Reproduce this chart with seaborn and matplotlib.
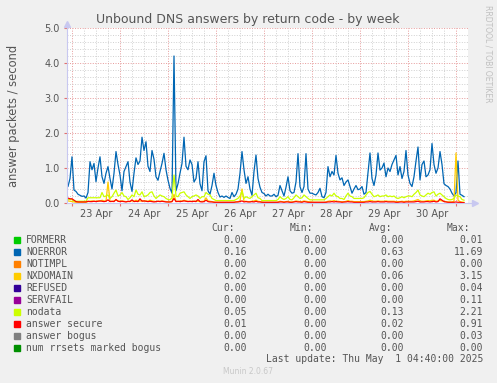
import numpy as np
import pandas as pd
import seaborn as sns
import matplotlib.pyplot as plt
import matplotlib.dates as mdates
from matplotlib.ticker import FuncFormatter, MultipleLocator
from matplotlib.patches import Rectangle

# hourly samples, 22 Apr 21:00 -> 1 May 04:00 (answers / second)
noerror = [
    0.60, 0.47, 0.70,
    1.32, 0.37, 0.33, 0.25, 0.22, 0.19, 0.20, 0.14, 0.30, 1.18, 0.95, 1.13,
    0.61, 1.00, 1.32, 0.75, 0.56, 0.85, 1.04, 0.70, 0.40, 0.85, 1.47, 1.10,
    0.80, 0.35, 0.90, 1.04, 1.18, 0.60, 0.33, 0.85, 1.29, 1.10, 1.20, 1.88,
    1.50, 1.75, 1.05, 0.90, 1.50, 1.25, 0.75, 0.65, 0.90, 1.13, 1.42, 0.95,
    0.65, 0.42, 0.28, 4.20, 0.35, 0.55, 0.85, 1.13, 1.88, 1.05, 0.95, 1.23,
    1.10, 0.60, 0.70, 1.18, 0.55, 0.35, 1.18, 1.35, 0.35, 0.25, 0.50, 0.85,
    0.50, 0.30, 0.17, 0.20, 0.16, 0.20, 0.16, 0.13, 0.30, 0.18, 0.25, 0.40,
    0.85, 1.47, 0.95, 0.56, 0.75, 0.40, 0.22, 0.90, 1.37, 0.70, 0.45, 0.30,
    0.27, 0.20, 0.25, 0.20, 0.20, 0.25, 0.18, 0.22, 0.50, 0.35, 0.20, 0.45,
    0.75, 0.35, 0.28, 0.30, 0.60, 1.41, 0.47, 0.30, 0.47, 1.41, 0.40, 0.28,
    0.28, 0.25, 0.23, 0.30, 0.42, 0.18, 0.15, 0.30, 1.04, 0.75, 0.90, 0.80,
    1.36, 0.85, 0.66, 0.72, 0.50, 0.60, 0.66, 0.47, 0.28, 0.40, 0.50, 0.38,
    0.40, 0.47, 0.25, 0.30, 0.85, 1.43, 0.70, 0.50, 0.80, 1.43, 0.94, 1.00,
    1.14, 0.75, 1.00, 0.90, 1.10, 1.23, 1.36, 0.80, 1.04, 0.70, 0.90, 1.50,
    0.80, 0.56, 0.47, 0.75, 1.20, 1.60, 0.66, 1.10, 1.20, 0.75, 0.80, 0.95,
    1.70, 1.10, 0.85, 1.00, 1.47, 1.10, 0.55, 0.50, 0.47, 0.40, 0.28, 0.20,
    0.30, 1.20, 0.25, 0.22, 0.18,
]
nxdomain = [
    0.05, 0.06, 0.05,
    0.04, 0.03, 0.02, 0.02, 0.02, 0.02, 0.02, 0.02, 0.04, 0.05, 0.06, 0.05,
    0.05, 0.06, 0.05, 0.08, 0.06, 0.05, 0.60, 0.05, 0.04, 0.06, 0.08, 0.06,
    0.05, 0.06, 0.05, 0.04, 0.04, 0.05, 0.06, 0.05, 0.08, 0.06, 0.05, 0.07,
    0.05, 0.06, 0.05, 0.08, 0.06, 0.05, 0.04, 0.05, 0.05, 0.06, 0.05, 0.04,
    0.03, 0.03, 0.04, 0.25, 0.05, 0.04, 0.06, 0.05, 0.08, 0.06, 0.05, 0.04,
    0.05, 0.05, 0.06, 0.05, 0.04, 0.05, 0.05, 0.15, 0.06, 0.05, 0.04, 0.03,
    0.02, 0.02, 0.02, 0.02, 0.02, 0.02, 0.02, 0.02, 0.02, 0.02, 0.03, 0.04,
    0.06, 0.40, 0.05, 0.05, 0.04, 0.04, 0.05, 0.06, 0.08, 0.05, 0.04, 0.03,
    0.02, 0.02, 0.02, 0.02, 0.02, 0.02, 0.02, 0.03, 0.05, 0.04, 0.03, 0.04,
    0.05, 0.03, 0.03, 0.04, 0.06, 0.05, 0.04, 0.04, 0.06, 0.05, 0.04, 0.03,
    0.03, 0.02, 0.02, 0.02, 0.02, 0.02, 0.02, 0.03, 0.05, 0.06, 0.05, 0.07,
    0.05, 0.05, 0.04, 0.04, 0.03, 0.05, 0.07, 0.05, 0.05, 0.04, 0.04, 0.04,
    0.04, 0.04, 0.04, 0.05, 0.06, 0.08, 0.06, 0.05, 0.05, 0.06, 0.05, 0.05,
    0.05, 0.06, 0.05, 0.05, 0.05, 0.05, 0.04, 0.04, 0.04, 0.05, 0.04, 0.05,
    0.05, 0.05, 0.05, 0.06, 0.08, 0.10, 0.06, 0.05, 0.05, 0.06, 0.07, 0.06,
    0.08, 0.08, 0.05, 0.06, 0.07, 0.06, 0.05, 0.04, 0.03, 0.03, 0.03, 0.05,
    1.43, 0.08, 0.04, 0.03, 0.02,
]
nodata = [
    0.10, 0.10, 0.10,
    0.10, 0.05, 0.05, 0.05, 0.05, 0.05, 0.05, 0.05, 0.15, 0.15, 0.15, 0.15,
    0.15, 0.15, 0.15, 0.30, 0.18, 0.20, 0.23, 0.13, 0.18, 0.28, 0.37, 0.20,
    0.23, 0.30, 0.20, 0.18, 0.10, 0.15, 0.23, 0.18, 0.37, 0.25, 0.23, 0.32,
    0.18, 0.20, 0.23, 0.30, 0.32, 0.20, 0.13, 0.18, 0.23, 0.20, 0.18, 0.13,
    0.10, 0.09, 0.15, 0.80, 0.20, 0.18, 0.28, 0.30, 0.32, 0.23, 0.18, 0.13,
    0.18, 0.20, 0.23, 0.20, 0.13, 0.18, 0.18, 0.30, 0.25, 0.23, 0.13, 0.10,
    0.07, 0.07, 0.07, 0.07, 0.07, 0.07, 0.07, 0.07, 0.07, 0.07, 0.10, 0.13,
    0.20, 0.33, 0.13, 0.18, 0.15, 0.13, 0.18, 0.23, 0.28, 0.15, 0.13, 0.07,
    0.07, 0.07, 0.07, 0.07, 0.07, 0.07, 0.07, 0.10, 0.18, 0.13, 0.10, 0.13,
    0.18, 0.10, 0.09, 0.15, 0.23, 0.18, 0.13, 0.15, 0.23, 0.18, 0.13, 0.09,
    0.09, 0.09, 0.09, 0.09, 0.09, 0.09, 0.09, 0.13, 0.18, 0.23, 0.20, 0.28,
    0.20, 0.18, 0.13, 0.13, 0.10, 0.20, 0.28, 0.20, 0.18, 0.13, 0.13, 0.13,
    0.13, 0.13, 0.15, 0.23, 0.30, 0.33, 0.25, 0.18, 0.20, 0.23, 0.18, 0.20,
    0.20, 0.23, 0.18, 0.20, 0.18, 0.20, 0.15, 0.13, 0.15, 0.18, 0.15, 0.18,
    0.20, 0.20, 0.18, 0.25, 0.30, 0.37, 0.23, 0.20, 0.18, 0.23, 0.28, 0.25,
    0.30, 0.32, 0.20, 0.25, 0.28, 0.23, 0.18, 0.13, 0.10, 0.09, 0.10, 0.13,
    0.23, 0.20, 0.18, 0.10, 0.08,
]
secure = [
    0.13, 0.14, 0.12,
    0.12, 0.08, 0.04, 0.03, 0.03, 0.03, 0.03, 0.03, 0.05, 0.04, 0.04, 0.05,
    0.04, 0.05, 0.06, 0.05, 0.04, 0.05, 0.09, 0.04, 0.05, 0.04, 0.10, 0.05,
    0.04, 0.05, 0.04, 0.03, 0.05, 0.04, 0.09, 0.04, 0.05, 0.04, 0.12, 0.05,
    0.06, 0.05, 0.04, 0.05, 0.04, 0.03, 0.04, 0.05, 0.04, 0.05, 0.04, 0.03,
    0.03, 0.03, 0.04, 0.13, 0.04, 0.05, 0.04, 0.05, 0.06, 0.05, 0.04, 0.05,
    0.04, 0.05, 0.04, 0.10, 0.04, 0.03, 0.04, 0.08, 0.04, 0.03, 0.03, 0.02,
    0.02, 0.02, 0.02, 0.02, 0.02, 0.02, 0.02, 0.02, 0.02, 0.02, 0.03, 0.03,
    0.04, 0.06, 0.03, 0.04, 0.03, 0.03, 0.04, 0.03, 0.05, 0.03, 0.03, 0.02,
    0.02, 0.02, 0.02, 0.02, 0.02, 0.02, 0.02, 0.02, 0.03, 0.03, 0.02, 0.03,
    0.03, 0.02, 0.02, 0.03, 0.04, 0.03, 0.03, 0.02, 0.04, 0.03, 0.02, 0.02,
    0.02, 0.02, 0.02, 0.02, 0.02, 0.02, 0.02, 0.02, 0.03, 0.03, 0.04, 0.03,
    0.04, 0.03, 0.03, 0.02, 0.03, 0.03, 0.04, 0.03, 0.03, 0.02, 0.02, 0.02,
    0.02, 0.02, 0.02, 0.03, 0.03, 0.04, 0.03, 0.03, 0.03, 0.04, 0.03, 0.03,
    0.03, 0.04, 0.03, 0.03, 0.03, 0.03, 0.02, 0.02, 0.03, 0.03, 0.02, 0.03,
    0.03, 0.03, 0.03, 0.03, 0.04, 0.05, 0.03, 0.03, 0.03, 0.04, 0.04, 0.03,
    0.04, 0.05, 0.03, 0.04, 0.12, 0.08, 0.04, 0.03, 0.02, 0.02, 0.02, 0.02,
    0.03, 0.02, 0.02, 0.01, 0.01,
]

# legend table
labels = ['FORMERR', 'NOERROR', 'NOTIMPL', 'NXDOMAIN', 'REFUSED', 'SERVFAIL',
          'nodata', 'answer secure', 'answer bogus', 'num rrsets marked bogus']
colors = ['#00cc00', '#0066b3', '#ff8000', '#ffcc00', '#330099', '#990099',
          '#ccff00', '#ff0000', '#808080', '#008f00']
cur = ['0.00', '0.16', '0.00', '0.02', '0.00', '0.00', '0.05', '0.01', '0.00', '0.00']
mins = ['0.00'] * 10
avg = ['0.00', '0.63', '0.00', '0.06', '0.00', '0.00', '0.13', '0.02', '0.00', '0.00']
maxs = ['0.01', '11.69', '0.00', '3.15', '0.04', '0.11', '2.21', '0.91', '0.03', '0.00']

times = pd.date_range('2025-04-22 21:00', periods=len(noerror), freq='h')
df = pd.DataFrame({'time': times, 'NOERROR': noerror, 'NXDOMAIN': nxdomain,
                   'nodata': nodata, 'answer secure': secure})
df = df.melt(id_vars='time', var_name='series', value_name='rate')
drawn = ['NOERROR', 'NXDOMAIN', 'nodata', 'answer secure']
pal = {k: colors[labels.index(k)] for k in drawn}

W, H = 497, 383
fig = plt.figure(figsize=(W / 100, H / 100), dpi=100, facecolor='#f0f0f0')
ax = fig.add_axes([67 / W, 1 - 203 / H, 401 / W, 175 / H])
ax.set_facecolor('white')

sns.lineplot(data=df, x='time', y='rate', hue='series', hue_order=drawn,
             palette=pal, linewidth=0.9, legend=False, ax=ax)

ax.set_xlim(pd.Timestamp('2025-04-22 21:30'), pd.Timestamp('2025-05-01 06:00'))
ax.set_ylim(0, 5)
ax.yaxis.set_major_locator(MultipleLocator(1))
ax.yaxis.set_minor_locator(MultipleLocator(0.2))
ax.yaxis.set_major_formatter(FuncFormatter(lambda v, p: f'{v:.1f}'))
ax.xaxis.set_major_locator(mdates.DayLocator())
ax.xaxis.set_minor_locator(mdates.HourLocator(byhour=[0, 6, 12, 18]))
ax.xaxis.set_major_formatter(FuncFormatter(lambda v, p: ''))
ax.xaxis.set_minor_formatter(FuncFormatter(
    lambda v, p: mdates.num2date(v).strftime('%d %b') if mdates.num2date(v).hour == 12 else ''))

dots = (0, (1, 1.6))
ax.grid(which='minor', color='#d0d0d0', linestyle=dots, linewidth=0.7)
ax.grid(which='major', color='#e69a9a', linestyle=dots, linewidth=0.7)
ax.set_axisbelow(True)

ax.tick_params(which='major', length=2, color='#e07070', labelsize=7, labelcolor='#555555', pad=3)
ax.tick_params(which='minor', length=0, labelsize=7, labelcolor='#555555', pad=4)
ax.set_xlabel('')
ax.set_ylabel('answer packets / second', fontsize=8.3, color='#555555', labelpad=18)

for s in ['top', 'right']:
    ax.spines[s].set_visible(False)
for s in ['left', 'bottom']:
    ax.spines[s].set_color('#c8c8f0')
    ax.spines[s].set_linewidth(0.8)
ax.plot([1.0, 1.015], [0, 0], color='#c8c8f0', lw=0.8, transform=ax.transAxes, clip_on=False)
ax.plot(1.018, 0, marker='>', ms=4, color='#c8c8f0', transform=ax.transAxes, clip_on=False)
ax.plot(0, 1.02, marker='^', ms=4, color='#c8c8f0', transform=ax.transAxes, clip_on=False)

txt = '#555555'
fig.text(248 / W, 1 - 19 / H, 'Unbound DNS answers by return code - by week',
         ha='center', va='center', fontsize=9, color=txt)
fig.text(488 / W, 1 - 5 / H, 'RRDTOOL / TOBI OETIKER', rotation=270, ha='center', va='top',
         fontsize=5.5, color='#c0c0c0')

mono = 'DejaVu Sans Mono'
cols = [247, 327, 404, 483]
for x, head in zip([235, 313, 392, 470], ['Cur:', 'Min:', 'Avg:', 'Max:']):
    fig.text(x / W, 1 - 228 / H, head, ha='right', va='center', family=mono, fontsize=7, color=txt)
for i, lab in enumerate(labels):
    y = 240 + 12 * i
    fig.patches.append(Rectangle((14 / W, 1 - (y + 3) / H), 6 / W, 6 / H,
                                 transform=fig.transFigure, color=colors[i]))
    fig.text(26 / W, 1 - y / H, lab, ha='left', va='center', family=mono, fontsize=7, color=txt)
    for x, v in zip(cols, [cur[i], mins[i], avg[i], maxs[i]]):
        fig.text(x / W, 1 - y / H, v, ha='right', va='center', family=mono, fontsize=7, color=txt)
fig.text(483 / W, 1 - 359 / H, 'Last update: Thu May  1 04:40:00 2025', ha='right', va='center',
         family=mono, fontsize=7, color=txt)
fig.text(248 / W, 1 - 372 / H, 'Munin 2.0.67', ha='center', va='center', fontsize=5.5, color='#c8c8c8')

fig.savefig('out.png', dpi=100, facecolor=fig.get_facecolor())
